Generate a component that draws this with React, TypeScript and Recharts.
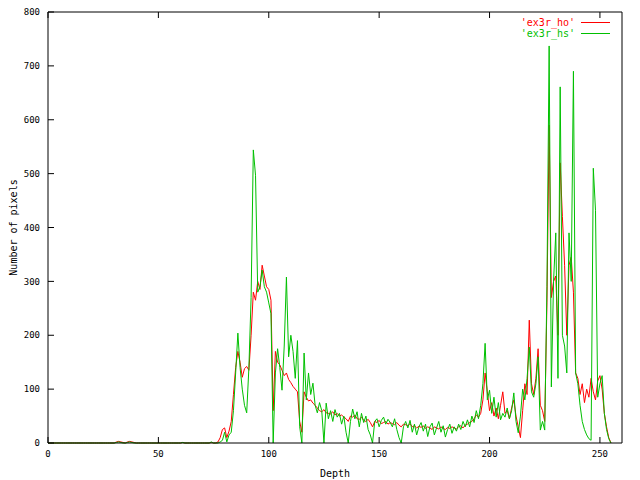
import { LineChart, Line, XAxis, YAxis, Legend } from "recharts";

// Number of pixels per depth value, depth 0..255
const ho = [
  0, 0, 0, 0, 0, 0, 0, 0, 0, 0,
  0, 0, 0, 0, 0, 0, 0, 0, 0, 0,
  0, 0, 0, 0, 0, 0, 0, 0, 0, 0,
  0, 2, 3, 2, 1, 0, 2, 3, 2, 1,
  0, 0, 0, 0, 0, 0, 0, 0, 0, 0,
  0, 0, 0, 0, 0, 0, 0, 0, 0, 0,
  0, 1, 0, 0, 0, 0, 0, 0, 0, 0,
  0, 0, 0, 0, 1, 0, 0, 2, 10, 25,
  28, 10, 22, 40, 90, 140, 170, 150, 122, 138,
  142, 135, 200, 280, 265, 300, 285, 330, 310, 290,
  285, 265, 60, 170, 150, 145, 135, 125, 130, 118,
  112, 105, 100, 95, 40, 20, 95, 85, 78, 80,
  74, 70, 65, 60, 58, 62, 56, 55, 54, 58,
  52, 55, 50, 52, 48, 45, 40, 50, 48, 52,
  45, 44, 48, 42, 40, 44, 38, 30, 40, 38,
  42, 36, 38, 40, 35, 38, 36, 34, 38, 33,
  30, 35, 34, 32, 36, 30, 32, 28, 31, 29,
  32, 27, 30, 28, 25, 30, 28, 26, 30, 27,
  25, 29, 27, 30, 28, 26, 30, 32, 28, 33,
  35, 38, 40, 45, 52, 48, 55, 80, 130, 95,
  60, 75, 50, 65, 45, 70, 95, 55, 60, 45,
  65, 80, 50, 30, 10, 60, 110, 90, 228, 110,
  90, 120, 175, 70, 60, 40, 260, 590, 270, 300,
  310, 200, 520, 420, 330, 200, 330, 345, 280, 130,
  120, 90, 110, 75, 100, 85, 120, 95, 80, 115,
  125, 100, 55, 30, 10, 0,
];

const hs = [
  0, 0, 0, 0, 0, 0, 0, 0, 0, 0,
  0, 0, 0, 0, 0, 0, 0, 0, 0, 0,
  0, 0, 0, 0, 0, 0, 0, 0, 0, 0,
  0, 1, 2, 1, 0, 0, 1, 2, 1, 0,
  0, 0, 0, 0, 0, 0, 0, 0, 0, 0,
  0, 0, 0, 0, 0, 0, 0, 0, 0, 0,
  0, 1, 0, 0, 0, 0, 0, 0, 0, 0,
  0, 0, 0, 0, 2, 0, 0, 0, 2, 5,
  20, 2, 15, 20, 60, 130, 204, 140, 100, 70,
  56, 140, 270, 544, 497, 280, 290, 321, 290, 280,
  260, 240, 0, 130, 175, 140, 98, 180, 308, 160,
  200, 170, 120, 190, 30, 0, 167, 80, 130, 90,
  111, 70, 56, 75, 60, 0, 74, 45, 60, 40,
  62, 48, 55, 35, 50, 20, 0, 40, 63, 45,
  58, 30, 55, 38, 50, 25, 15, 0, 40, 45,
  30, 42, 48, 35, 44, 38, 30, 45, 25, 10,
  0, 30, 40, 28, 42, 20, 35, 15, 30, 38,
  22, 35, 12, 30, 37, 15, 28, 40, 20, 32,
  11, 25, 35, 18, 30, 22, 35, 25, 40, 30,
  43, 30, 50, 38, 60, 45, 70, 110, 185, 80,
  98, 55, 85, 48, 75, 43, 55, 48, 65, 45,
  60, 93, 40, 19, 50, 100, 80, 120, 178, 95,
  85, 110, 160, 24, 40, 24, 290, 737, 104, 300,
  390, 120, 661, 200, 180, 130, 390, 300, 690, 130,
  110, 70, 40, 25, 15, 8, 5, 510, 432, 85,
  110, 125, 55, 25, 8, 0,
];

const xTicks = [0, 50, 100, 150, 200, 250];
const yTicks = [0, 100, 200, 300, 400, 500, 600, 700, 800];

const data = ho.map((v, i) => ({ depth: i, ho: v, hs: hs[i] }));

const FONT = "'DejaVu Sans Mono', monospace";
const RED = "#ff0000";
const GREEN = "#00c000";

// mirrored axes: keep the tick marks, drop the labels
const noLabel = () => <g />;

const renderLegend = () => (
  <div style={{ fontFamily: FONT, fontSize: 10, lineHeight: "11px" }}>
    {[
      { name: "'ex3r_ho'", color: RED },
      { name: "'ex3r_hs'", color: GREEN },
    ].map((item) => (
      <div key={item.name} style={{ display: "flex", alignItems: "center", justifyContent: "flex-end", height: 11 }}>
        <span style={{ color: item.color }}>{item.name}</span>
        <span style={{ display: "inline-block", width: 29, height: 1, background: item.color, marginLeft: 6 }} />
      </div>
    ))}
  </div>
);

export default function App() {
  return (
    <div style={{ position: "absolute", left: 0, top: 0, width: 640, height: 480, background: "#fff" }}>
      <LineChart width={640} height={480} data={data} margin={{ top: 11, right: 17, left: 0, bottom: 0 }}>
        <XAxis
          dataKey="depth"
          type="number"
          domain={[0, 260]}
          ticks={xTicks}
          height={37}
          stroke="#000"
          tickSize={-6}
          tickMargin={14}
          tick={{ fill: "#000", fontSize: 9, fontFamily: FONT }}
          label={{ value: "Depth", position: "insideBottom", offset: 3, fill: "#000", fontSize: 10, fontFamily: FONT }}
        />
        <XAxis
          xAxisId="top"
          orientation="top"
          dataKey="depth"
          type="number"
          domain={[0, 260]}
          ticks={xTicks}
          height={1}
          stroke="#000"
          tickSize={-6}
          tick={noLabel}
        />
        <YAxis
          type="number"
          domain={[0, 800]}
          ticks={yTicks}
          width={48}
          stroke="#000"
          tickSize={-6}
          tickMargin={14}
          tick={{ fill: "#000", fontSize: 9, fontFamily: FONT }}
          label={{
            value: "Number of pixels",
            angle: -90,
            position: "insideLeft",
            offset: 13,
            fill: "#000",
            fontSize: 10,
            fontFamily: FONT,
            style: { textAnchor: "middle" },
          }}
        />
        <YAxis
          yAxisId="right"
          orientation="right"
          type="number"
          domain={[0, 800]}
          ticks={yTicks}
          width={1}
          stroke="#000"
          tickSize={-6}
          tick={noLabel}
        />
        <Legend
          layout="horizontal"
          verticalAlign="middle"
          align="center"
          content={renderLegend}
          wrapperStyle={{ top: 17, right: 30, left: "auto", width: "auto" }}
        />
        <Line type="linear" dataKey="ho" stroke={RED} strokeWidth={1} dot={false} isAnimationActive={false} />
        <Line type="linear" dataKey="hs" stroke={GREEN} strokeWidth={1} dot={false} isAnimationActive={false} />
      </LineChart>
    </div>
  );
}
